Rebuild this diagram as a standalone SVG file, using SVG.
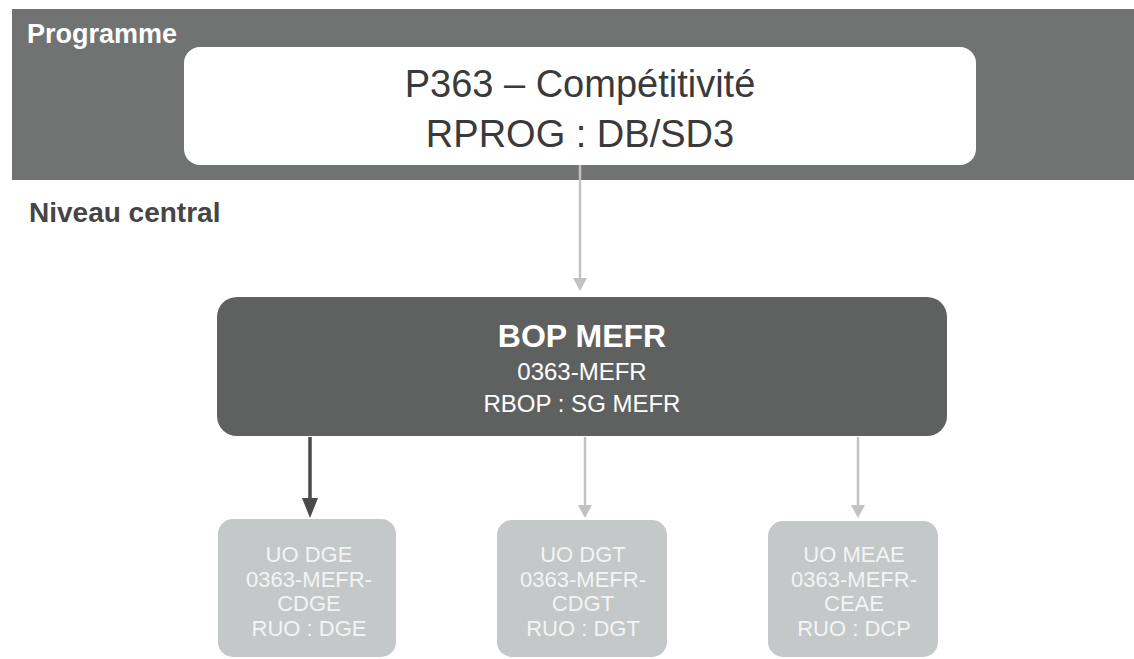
<svg xmlns="http://www.w3.org/2000/svg" width="1134" height="659" viewBox="0 0 1134 659">
  <defs>
    <style>
      .lbl{font-family:"Liberation Sans",Arial,sans-serif;}
      .b{font-weight:bold;}
      .uo{fill:#c5c8c8;}
      .uot{font-family:"Liberation Sans",Arial,sans-serif;font-size:22px;fill:#f4f4f4;text-anchor:middle;}
      .lite{stroke:#c2c2c2;stroke-width:2.5;fill:none;}
      .dark{stroke:#4a4a4a;stroke-width:3.5;fill:none;}
    </style>
  </defs>
  <rect width="1134" height="659" fill="#ffffff"/>

  <g id="programme">
    <rect x="12" y="9" width="1122" height="171" fill="#717272"/>
    <text class="lbl b" x="27" y="43" font-size="27" fill="#ffffff">Programme</text>
  </g>

  <g id="p363">
    <rect x="184" y="47" width="792" height="118" rx="16" fill="#ffffff"/>
    <text class="lbl" x="580" y="97" font-size="38" fill="#3a3a3a" text-anchor="middle">P363 – Compétitivité</text>
    <text class="lbl" x="580" y="147" font-size="38" fill="#3a3a3a" text-anchor="middle">RPROG : DB/SD3</text>
  </g>

  <g id="niveau">
    <text class="lbl b" x="29" y="222" font-size="28" fill="#454545">Niveau central</text>
  </g>

  <g id="bop">
    <rect x="217" y="297" width="730" height="139" rx="20" fill="#5f6161"/>
    <text class="lbl b" x="582" y="347" font-size="32" fill="#ffffff" text-anchor="middle">BOP MEFR</text>
    <text class="lbl" x="582" y="380" font-size="24" fill="#ffffff" text-anchor="middle">0363-MEFR</text>
    <text class="lbl" x="582" y="412" font-size="24" fill="#ffffff" text-anchor="middle">RBOP : SG MEFR</text>
  </g>

  <g id="uo-dge">
    <rect class="uo" x="218" y="519" width="178" height="138" rx="15"/>
    <text class="uot" x="309" y="562">UO DGE</text>
    <text class="uot" x="309" y="587">0363-MEFR-</text>
    <text class="uot" x="309" y="611">CDGE</text>
    <text class="uot" x="309" y="636">RUO : DGE</text>
  </g>

  <g id="uo-dgt">
    <rect class="uo" x="497" y="520" width="170" height="137" rx="15"/>
    <text class="uot" x="583" y="562">UO DGT</text>
    <text class="uot" x="583" y="587">0363-MEFR-</text>
    <text class="uot" x="583" y="611">CDGT</text>
    <text class="uot" x="583" y="636">RUO : DGT</text>
  </g>

  <g id="uo-meae">
    <rect class="uo" x="768" y="521" width="170" height="136" rx="15"/>
    <text class="uot" x="854" y="562">UO MEAE</text>
    <text class="uot" x="854" y="587">0363-MEFR-</text>
    <text class="uot" x="854" y="611">CEAE</text>
    <text class="uot" x="854" y="636">RUO : DCP</text>
  </g>

  <g id="connectors">
    <line class="lite" x1="580" y1="165" x2="580" y2="280"/>
    <path d="M573,278 L587,278 L580,291 Z" fill="#c2c2c2"/>
    <line class="lite" x1="585" y1="437" x2="585" y2="507"/>
    <path d="M578,505 L592,505 L585,518 Z" fill="#c2c2c2"/>
    <line class="lite" x1="858" y1="437" x2="858" y2="507"/>
    <path d="M851,505 L865,505 L858,518 Z" fill="#c2c2c2"/>
    <line class="dark" x1="310" y1="437" x2="310" y2="502"/>
    <path d="M302,498 L318,498 L310,518 Z" fill="#4a4a4a"/>
  </g>
</svg>
